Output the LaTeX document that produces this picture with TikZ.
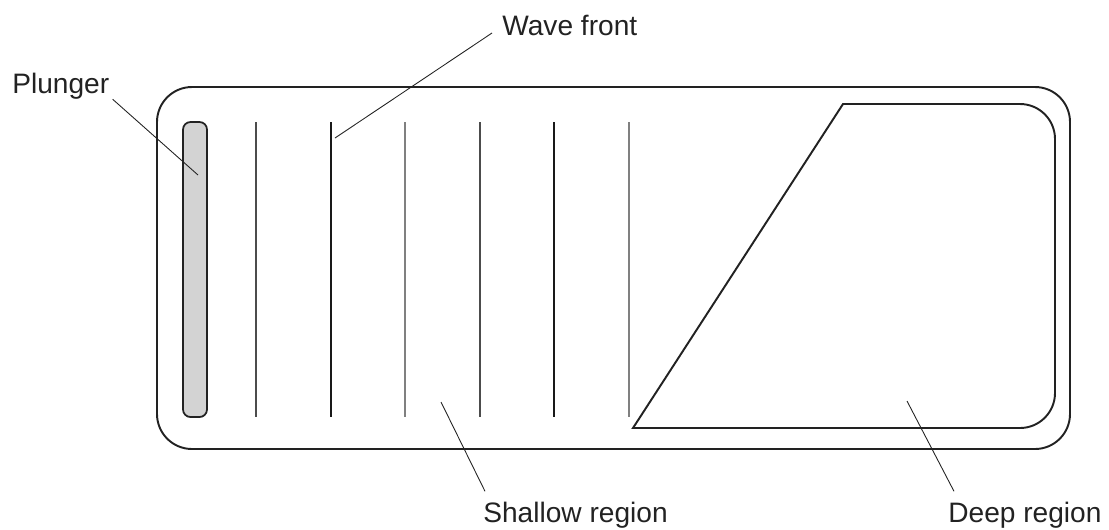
\documentclass[tikz,border=0pt]{standalone}
\usepackage{fontspec}
\setmainfont{Liberation Sans}
\usepackage{xcolor}
\definecolor{plungergray}{HTML}{D3D3D3}
\definecolor{inkdark}{HTML}{222222}
\usetikzlibrary{positioning}
\tikzset{
  tank/.style={draw=inkdark, line width=1.1pt},
  wave/.style={line width=0.9pt},
  leader/.style={draw=inkdark, line width=0.5pt},
  lbl/.style={font=\fontsize{16}{18}\selectfont, inner sep=0pt, anchor=base west, text=inkdark},
}

\begin{document}
\begin{tikzpicture}[x=0.02cm, y=-0.02cm]
  \useasboundingbox (0,0) rectangle (1109,529);

  % tank and plunger
  \draw[tank, rounded corners=0.7cm] (157,87) rectangle (1070,449);
  \filldraw[fill=plungergray, draw=inkdark, line width=1pt, rounded corners=0.15cm] (183,122) rectangle (207,417);

  % wave fronts
  \foreach \x/\shade in {256/70,331/90,405/50,480/70,554/90,629/50}
    \draw[wave, draw=black!\shade] (\x,122) -- (\x,417);

  % deep region
  \draw[tank] (633,428) -- (843,104) -- (950,104) [rounded corners=0.7cm] -- (1055,104) -- (1055,428) -- (950,428) [sharp corners] -- cycle;

  % labels
  \node[lbl] (plunger) at (12,93) {Plunger};
  \node[lbl] (wavefront) at (502,35) {Wave front};
  \node[lbl] (shallow) at (483,522) {Shallow region};
  \node[lbl] (deep) at (948,522) {Deep region};

  \coordinate (plunger tip) at (198,175);
  \coordinate (wave tip) at (335,138);
  \coordinate (shallow tip) at (441,402);
  \coordinate (deep tip) at (907,401);

  \draw[leader] ([xshift=0.06cm]plunger.south east) -- (plunger tip);
  \draw[leader] ([xshift=-0.2cm, yshift=0.04cm]wavefront.base west) -- (wave tip);
  \draw[leader] ([xshift=0.04cm, yshift=0.2cm]shallow.north west) -- (shallow tip);
  \draw[leader] ([xshift=0.12cm, yshift=0.2cm]deep.north west) -- (deep tip);
\end{tikzpicture}
\end{document}
